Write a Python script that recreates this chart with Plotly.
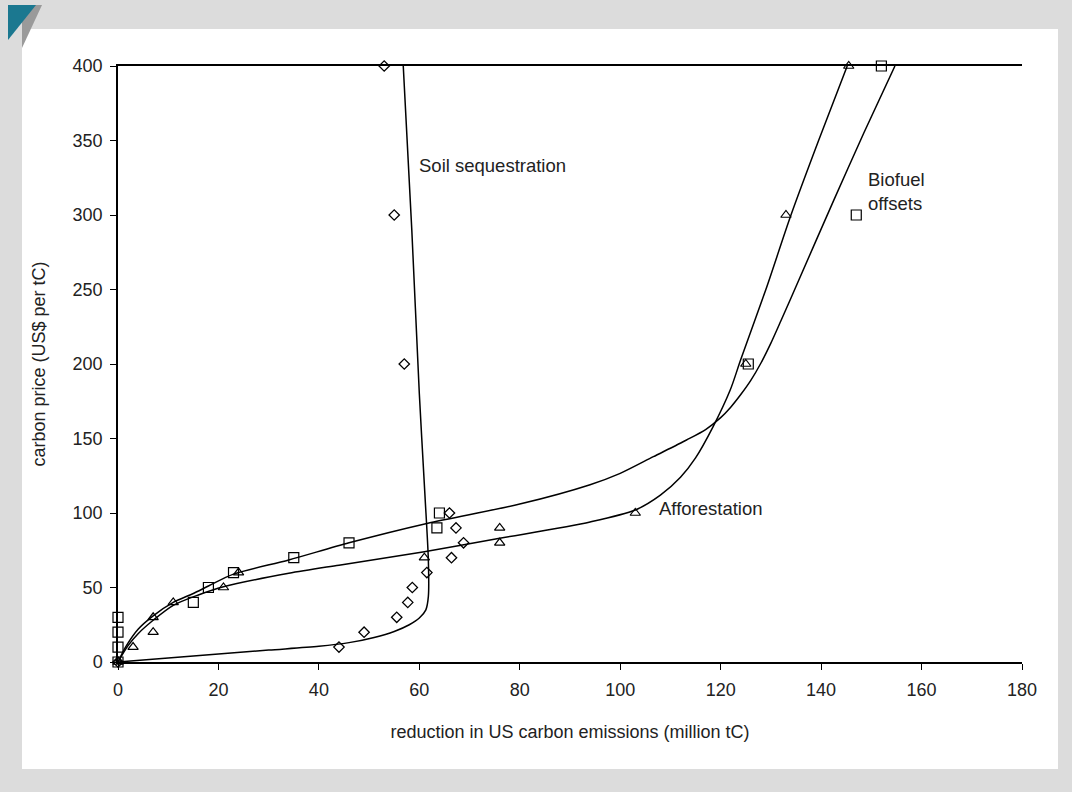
import plotly.graph_objects as go

# ---- data ----
soil_x = [0, 44, 49, 55.5, 57.7, 58.6, 61.5, 66.4, 68.8, 67.3, 66, 57, 55, 53]
soil_y = [0, 10, 20, 30, 40, 50, 60, 70, 80, 90, 100, 200, 300, 400]

affor_x = [0, 3, 7, 7, 11, 21, 24, 61, 76, 76, 103, 125, 133, 145.5]
affor_y = [0, 10, 20, 30, 40, 50, 60, 70, 80, 90, 100, 200, 300, 400]

bio_x = [0, 0, 0, 0, 15, 18, 23, 35, 46, 63.5, 64, 125.5, 147, 152]
bio_y = [0, 10, 20, 30, 40, 50, 60, 70, 80, 90, 100, 200, 300, 400]

# trend curves
soil_curve_x = [0, 10, 20, 30, 40, 46, 51, 55, 58, 60, 61.3, 61.8, 61.8, 61.1, 60, 58.5, 56.8]
soil_curve_y = [0, 2.7, 5.4, 8, 10.5, 13, 16.5, 20.5, 25, 29.5, 35, 44, 68, 113, 180, 290, 400]

affor_curve_x = [0, 2, 4, 7, 11, 16, 21, 34, 44, 61, 76, 94, 103, 108, 112, 115, 118.5,
                 121.9, 124, 129, 134, 139.5, 145.2]
affor_curve_y = [0, 11, 19, 28, 38, 45, 50.5, 59.5, 65, 74, 83, 94, 102, 112, 124, 137, 158,
                 182.5, 203, 250, 300, 350, 400]

bio_curve_x = [0, 1.5, 4, 7, 11, 15, 18, 23, 34, 46, 61.5, 80, 94, 100, 106.6, 113.2, 117,
               120, 122, 124, 126, 128, 130, 132, 135, 142.4, 148.5, 154.7]
bio_curve_y = [0, 10, 22, 31, 40, 46, 51, 59, 68.5, 80, 93, 106, 119, 126.6, 137.8, 149, 156,
               164, 171, 179.5, 189, 200.5, 214, 229, 252, 309, 355, 400]

x_ticks = [0, 20, 40, 60, 80, 100, 120, 140, 160, 180]
y_ticks = [0, 50, 100, 150, 200, 250, 300, 350, 400]

FONT = "Liberation Sans, Arial, sans-serif"
W, H = 1072, 792
L, R, T, B = 118, 1022, 66, 662


def px(x):
    return (x - L) / (R - L)


def py(y):
    return (B - y) / (B - T)


fig = go.Figure()

line_style = dict(color="black", width=1.5)
for cx, cy in [(soil_curve_x, soil_curve_y), (affor_curve_x, affor_curve_y), (bio_curve_x, bio_curve_y)]:
    fig.add_trace(go.Scatter(x=cx, y=cy, mode="lines", line=dict(shape="spline", smoothing=0.8, **line_style),
                             hoverinfo="skip", showlegend=False, cliponaxis=True))

fig.add_trace(go.Scatter(x=soil_x, y=soil_y, mode="markers", name="Soil sequestration",
                         marker=dict(symbol="diamond-open", size=8, color="black",
                                     line=dict(color="black", width=1.3)),
                         cliponaxis=False, showlegend=False))
fig.add_trace(go.Scatter(x=affor_x, y=affor_y, mode="markers", name="Afforestation",
                         marker=dict(symbol="triangle-up-open", size=9, color="black",
                                     line=dict(color="black", width=1.2)),
                         cliponaxis=False, showlegend=False))
fig.add_trace(go.Scatter(x=bio_x, y=bio_y, mode="markers", name="Biofuel offsets",
                         marker=dict(symbol="square-open", size=10, color="black",
                                     line=dict(color="black", width=1.2)),
                         cliponaxis=False, showlegend=False))

shapes = [
    # white panel
    dict(type="rect", xref="paper", yref="paper", x0=px(22), x1=px(1058), y0=py(769), y1=py(29),
         fillcolor="white", line=dict(width=0), layer="below"),
    # corner decoration
    dict(type="path", xref="paper", yref="paper",
         path=f"M {px(22)},{py(5)} L {px(42)},{py(5)} L {px(22)},{py(48)} Z",
         fillcolor="#9a9a9a", line=dict(width=0), layer="below"),
    dict(type="path", xref="paper", yref="paper",
         path=f"M {px(8)},{py(5)} L {px(36)},{py(5)} L {px(8)},{py(40)} Z",
         fillcolor="#1b7890", line=dict(width=0), layer="below"),
]

annos = [
    dict(x=59.5, y=333, text="Soil sequestration", xanchor="left", yanchor="middle"),
    dict(x=149, y=316, text="Biofuel<br>offsets", xanchor="left", yanchor="middle", align="left"),
    dict(x=107.3, y=103, text="Afforestation", xanchor="left", yanchor="middle"),
]
for a in annos:
    a.update(xref="x", yref="y", showarrow=False, font=dict(family=FONT, size=18.5, color="#222"))

fig.update_layout(
    width=W, height=H,
    margin=dict(l=L, r=W - R, t=T, b=H - B, pad=0),
    paper_bgcolor="#dcdcdc",
    plot_bgcolor="white",
    shapes=shapes,
    annotations=annos,
    showlegend=False,
    font=dict(family=FONT, size=18, color="#222"),
    xaxis=dict(range=[0, 180], tickvals=x_ticks, ticktext=[str(v) for v in x_ticks],
               showgrid=False, zeroline=False, showline=True, linecolor="black", linewidth=1.5,
               mirror=True, ticks="outside", ticklen=6, tickwidth=1.2, tickcolor="black",
               ticklabelstandoff=5,
               tickfont=dict(family=FONT, size=18, color="#222"),
               title=dict(text="reduction in US carbon emissions (million tC)", standoff=26,
                          font=dict(family=FONT, size=18, color="#222"))),
    yaxis=dict(range=[0, 400], tickvals=y_ticks, ticktext=[str(v) for v in y_ticks],
               showgrid=False, zeroline=False, showline=True, linecolor="black", linewidth=1.5,
               ticks="outside", ticklen=6, tickwidth=1.2, tickcolor="black",
               ticklabelstandoff=4,
               tickfont=dict(family=FONT, size=18, color="#222"),
               title=dict(text="carbon price (US$ per tC)", standoff=22,
                          font=dict(family=FONT, size=18, color="#222"))),
)

fig.write_html(
    "out.html",
    config={"displayModeBar": False},
    post_script="document.body.style.margin='0';document.body.style.padding='0';"
                "document.body.style.background='#dcdcdc';document.body.style.overflow='hidden';",
)
